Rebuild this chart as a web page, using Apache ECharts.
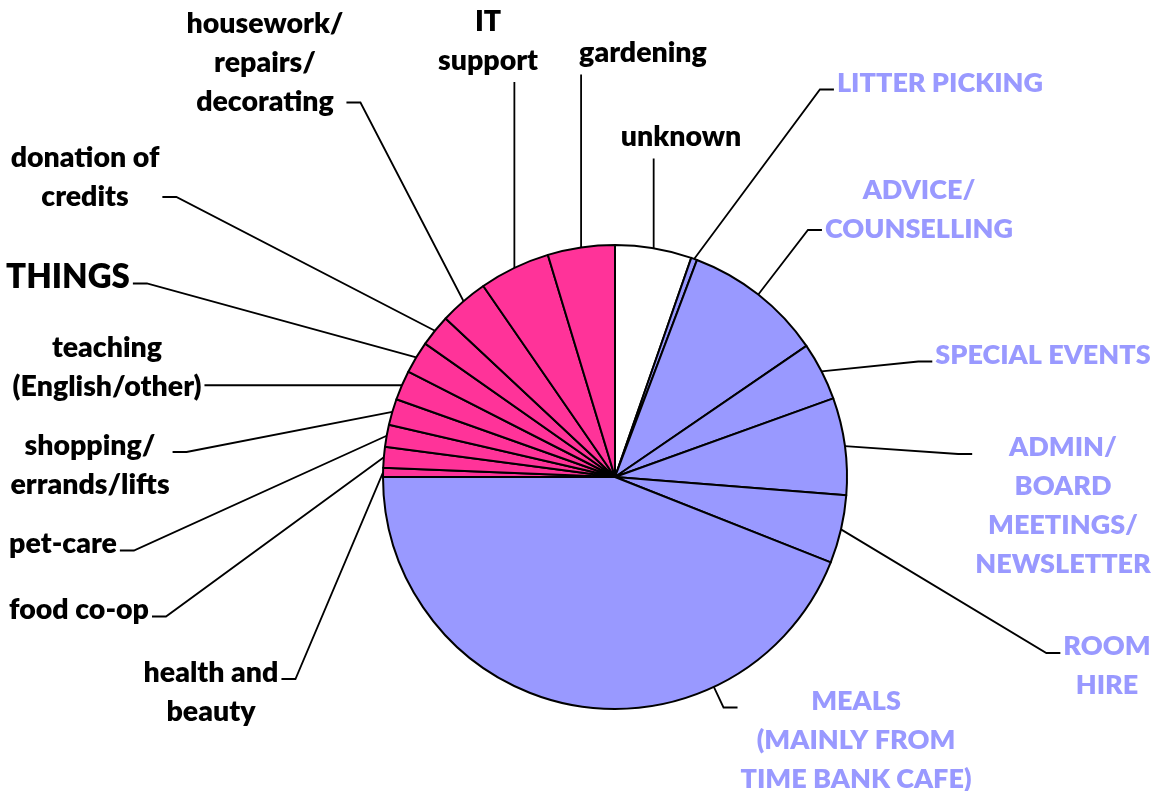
<!DOCTYPE html>
<html>
<head>
<meta charset="utf-8">
<script src="https://cdn.jsdelivr.net/npm/echarts@6/dist/echarts.min.js"></script>
<style>
  html, body { margin: 0; padding: 0; background: #fff; }
  #chart { width: 1156px; height: 791px; }
</style>
</head>
<body>
<div id="chart"></div>
<script>
// categories, clockwise from 12 o'clock
const categories = [
  'unknown',
  'LITTER PICKING',
  'ADVICE/\nCOUNSELLING',
  'SPECIAL EVENTS',
  'ADMIN/\nBOARD\nMEETINGS/\nNEWSLETTER',
  'ROOM\nHIRE',
  'MEALS\n(MAINLY FROM\nTIME BANK CAFE)',
  'health and\nbeauty',
  'food co-op',
  'pet-care',
  'shopping/\nerrands/lifts',
  'teaching\n(English/other)',
  'THINGS',
  'donation of\ncredits',
  'housework/\nrepairs/\ndecorating',
  'IT\nsupport',
  'gardening'
];
// share of hours, %
const values = [5.33, 0.42, 9.69, 4.06, 6.75, 4.75, 44.0, 0.64, 1.44, 1.53, 1.83, 2.06, 2.25, 2.22, 3.42, 4.94, 4.67];
// which group each category belongs to
const groups = ['none', 'org', 'org', 'org', 'org', 'org', 'org',
  'member', 'member', 'member', 'member', 'member', 'member', 'member', 'member', 'member', 'member'];

// label centres (px), same order as categories
const labelPos = [
  [681, 137], [940, 83], [919, 210], [1043, 355], [1063, 506], [1107, 666], [856, 740],
  [211, 692], [79, 610], [63, 544], [90, 465], [107, 367], [68, 277], [85, 177],
  [265, 63], [488, 41], [643, 53]
];

const CX = 615, CY = 477, RAD = 232;

const sliceColor = { none: '#FFFFFF', org: '#9999FF', member: '#FF3399' };
const textColor = { none: '#000000', org: '#9999FF', member: '#000000' };
const textSize = { none: 28.5, org: 27, member: 28.5 };

const total = values.reduce((a, b) => a + b, 0);
const spans = [];
values.reduce((acc, v, i) => { spans[i] = [acc / total * 360, (acc + v) / total * 360]; return acc + v; }, 0);

const chart = echarts.init(document.getElementById('chart'));

const data = categories.map((name, i) => ({
  name: name,
  value: values[i],
  itemStyle: { color: sliceColor[groups[i]] },
  label: {
    color: textColor[groups[i]],
    fontSize: name === 'THINGS' ? 33 : textSize[groups[i]]
  }
}));

// leader line: from the slice edge to the nearest side of the label
function layoutLabel(p) {
  const i = p.dataIndex;
  const pos = labelPos[i];
  const w = p.labelRect.width, h = p.labelRect.height;
  const L = pos[0] - w / 2, R = pos[0] + w / 2, T = pos[1] - h / 2, B = pos[1] + h / 2;
  let s = p.labelLinePoints[0];
  let pts;
  if (s[0] >= L && s[0] <= R) {
    const yEnd = s[1] > B ? B + 2 : T - 2;
    pts = [s, [s[0], yEnd], [s[0], yEnd]];
  } else {
    const right = s[0] > R;
    const ex = right ? R + 3 : L - 3;
    const ey = Math.max(T + 26, Math.min(s[1], B - 19));
    const elbow = [ex + (right ? 14 : -14), ey];
    const a0 = spans[i][0], a1 = spans[i][1];
    if (a1 - a0 > 90) {
      // big slice: meet the arc in the direction of the label
      let a = Math.atan2(elbow[0] - CX, CY - elbow[1]) * 180 / Math.PI;
      if (a < 0) a += 360;
      if (a > a0 && a < a1) {
        const rad = a * Math.PI / 180;
        s = [CX + RAD * Math.sin(rad), CY - RAD * Math.cos(rad)];
      }
    }
    pts = [s, elbow, [ex, ey]];
  }
  return {
    x: pos[0],
    y: pos[1],
    align: 'center',
    verticalAlign: 'middle',
    labelLinePoints: pts
  };
}

const option = {
  animation: false,
  series: [
    {
      type: 'pie',
      center: [CX, CY],
      radius: RAD,
      startAngle: 90,
      clockwise: true,
      avoidLabelOverlap: false,
      emphasis: { disabled: true },
      itemStyle: {
        borderColor: '#000',
        borderWidth: 2
      },
      label: {
        show: true,
        position: 'outside',
        fontFamily: 'Lato',
        fontWeight: 800,
        fontSize: 28,
        lineHeight: 39,
        align: 'center',
        formatter: '{b}'
      },
      labelLine: {
        show: true,
        length: 10,
        length2: 10,
        lineStyle: { color: '#000', width: 1.8 }
      },
      labelLayout: layoutLabel,
      data: data
    }
  ]
};

chart.setOption(option);
</script>
</body>
</html>
